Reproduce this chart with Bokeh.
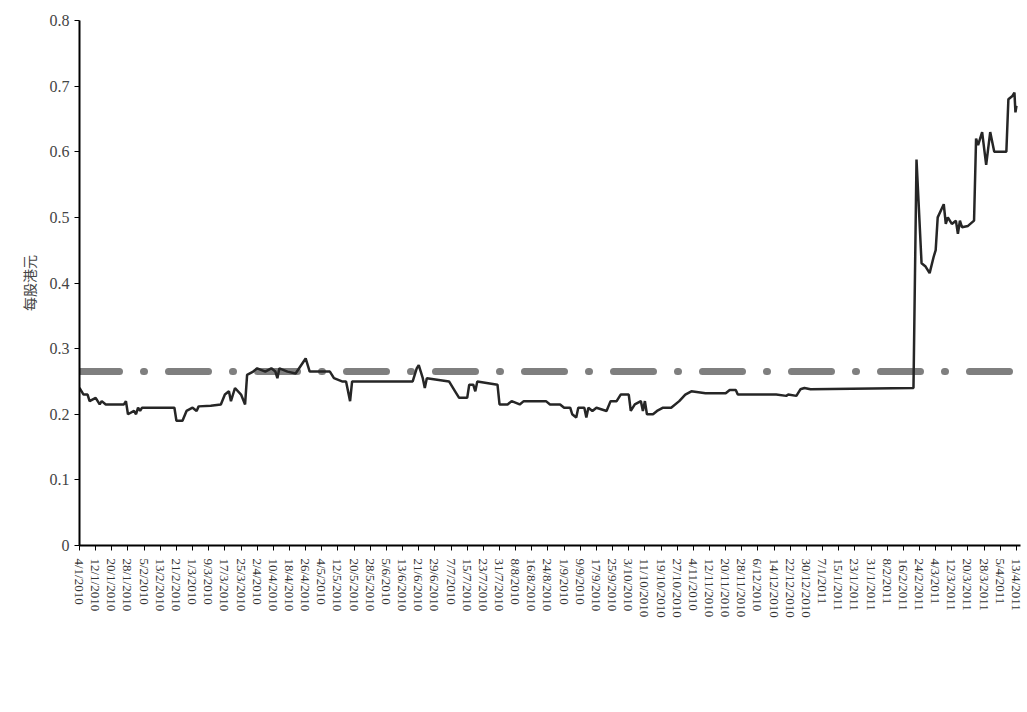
import math
import pandas as pd
from bokeh.plotting import figure
from bokeh.models import FixedTicker, Legend, LegendItem, Range1d
from bokeh.embed import file_html
from bokeh.resources import INLINE

start_date = "2010-01-04"
day_offset = [0,2,4,5,8,10,11,13,22,23,24,27,28,29,30,31,47,48,51,53,56,58,59,65,70,72,74,75,77,80,82,83,86,88,92,95,97,98,99,103,107,112,114,118,124,126,130,132,134,135,155,165,167,168,170,171,172,183,186,188,192,193,195,196,197,207,208,212,214,218,220,231,233,238,240,243,244,246,247,250,251,252,254,256,261,263,266,268,272,273,275,278,279,280,281,284,286,289,293,297,300,303,310,320,322,325,326,345,350,351,355,357,359,362,413,414.5,417,419,421,423,424,425,428,429,430,432,434,435,436,437,440,443,444,445,447,449,451,453,459,460,462,463,463.5,464]
price = [0.24,0.23,0.23,0.22,0.225,0.215,0.22,0.215,0.215,0.22,0.2,0.205,0.2,0.21,0.205,0.21,0.21,0.19,0.19,0.205,0.21,0.205,0.212,0.213,0.215,0.23,0.235,0.22,0.24,0.23,0.215,0.26,0.265,0.27,0.265,0.27,0.265,0.255,0.27,0.265,0.262,0.285,0.265,0.265,0.265,0.255,0.25,0.25,0.22,0.25,0.25,0.25,0.27,0.275,0.255,0.24,0.255,0.25,0.235,0.225,0.225,0.245,0.245,0.235,0.25,0.245,0.215,0.215,0.22,0.215,0.22,0.22,0.215,0.215,0.21,0.21,0.2,0.195,0.21,0.21,0.195,0.21,0.205,0.21,0.205,0.22,0.22,0.23,0.23,0.205,0.215,0.22,0.205,0.22,0.2,0.2,0.205,0.21,0.21,0.22,0.23,0.235,0.232,0.232,0.237,0.237,0.23,0.23,0.228,0.23,0.228,0.238,0.24,0.238,0.24,0.588,0.43,0.425,0.415,0.44,0.45,0.5,0.52,0.49,0.5,0.49,0.495,0.475,0.495,0.485,0.487,0.495,0.62,0.61,0.63,0.58,0.63,0.6,0.6,0.68,0.685,0.69,0.66,0.67]
offer_price = 0.265
tick_step_days = 8
n_ticks = 59
legend_label = "收購價"
y_label = "每股港元"

t0 = pd.Timestamp(start_date)
tick_pos = [i * tick_step_days for i in range(n_ticks)]
tick_lab = {}
for d in tick_pos:
    ts = t0 + pd.Timedelta(days=d)
    tick_lab[d] = f"{ts.day}/{ts.month}/{ts.year}"

p = figure(frame_width=941, frame_height=525, output_backend="svg", toolbar_location=None,
           x_range=Range1d(0, 466), y_range=Range1d(0, 0.8))
p.min_border_left = 79
p.min_border_right = 3
p.min_border_top = 20
p.min_border_bottom = 0
p.outline_line_color = None
p.grid.visible = False

serif = "Liberation Serif"
p.xaxis.ticker = FixedTicker(ticks=tick_pos)
p.xaxis.major_label_overrides = tick_lab
p.xaxis.major_label_orientation = -math.pi / 2
p.xaxis.minor_tick_line_color = None
p.xaxis.major_tick_in = 0
p.xaxis.major_tick_out = 5
p.xaxis.major_label_standoff = 8
p.xaxis.major_label_text_font = serif
p.xaxis.major_label_text_font_size = "13px"
p.xaxis.major_label_text_color = "#333333"
p.xaxis.axis_line_width = 2

p.yaxis.ticker = FixedTicker(ticks=[i / 10 for i in range(9)])
p.yaxis.major_label_overrides = {i / 10: ("0" if i == 0 else f"{i/10:.1f}") for i in range(9)}
p.yaxis.minor_tick_line_color = None
p.yaxis.major_tick_in = 0
p.yaxis.major_tick_out = 5
p.yaxis.major_label_text_font = serif
p.yaxis.major_label_text_font_size = "16px"
p.yaxis.axis_line_width = 2
p.yaxis.axis_label = y_label
p.yaxis.axis_label_text_font = "Noto Sans CJK TC"
p.yaxis.axis_label_text_font_style = "normal"
p.yaxis.axis_label_text_font_size = "14px"
p.yaxis.axis_label_standoff = 8

ref = p.line([0, 464], [offer_price, offer_price], line_color="#7f7f7f", line_width=7,
             line_dash="40 24 1 24", line_cap="round")
p.line(day_offset, price, line_color="#262626", line_width=2.5)

leg = Legend(items=[LegendItem(label=legend_label, renderers=[ref])], location="center",
             orientation="horizontal", border_line_color="#333333", border_line_width=1,
             label_text_font="Noto Sans CJK TC", label_text_font_size="13px",
             glyph_width=45, padding=3, margin=0, label_standoff=12)
p.add_layout(leg, "below")

open("out.html", "w").write(file_html(p, INLINE))
